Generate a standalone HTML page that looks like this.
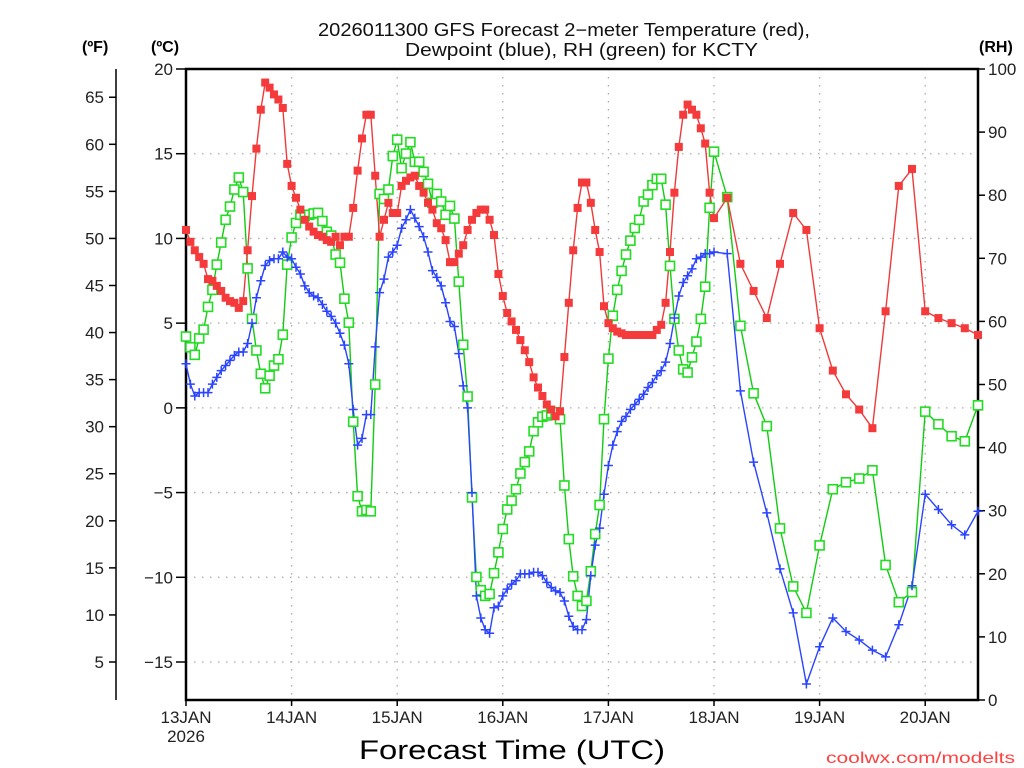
<!DOCTYPE html>
<html><head><meta charset="utf-8"><title>GFS Forecast KCTY</title>
<style>
html,body{margin:0;padding:0;background:#fff;}
svg{display:block;font-family:"Liberation Sans",sans-serif;}
</style></head>
<body>
<svg id="chart" width="1024" height="768" viewBox="0 0 1024 768" xmlns="http://www.w3.org/2000/svg">
<rect x="0" y="0" width="1024" height="768" fill="#fff"/>
<text x="318" y="36" font-size="18" fill="#111" textLength="492" lengthAdjust="spacingAndGlyphs">2026011300 GFS Forecast 2−meter Temperature (red),</text>
<text x="405" y="56" font-size="18" fill="#111" textLength="353" lengthAdjust="spacingAndGlyphs">Dewpoint (blue), RH (green) for KCTY</text>
<text x="82" y="52" font-size="16" font-weight="bold" fill="#000">(ºF)</text>
<text x="151" y="52" font-size="16" font-weight="bold" fill="#000">(ºC)</text>
<text x="979" y="52" font-size="16" font-weight="bold" fill="#000">(RH)</text>
<text x="359" y="759" font-size="27" fill="#000" textLength="306" lengthAdjust="spacingAndGlyphs">Forecast Time (UTC)</text>
<text x="826" y="763" font-size="16" fill="#ff4040" textLength="189" lengthAdjust="spacingAndGlyphs">coolwx.com/modelts</text>
<g id="grid"></g>
<g id="axes"></g>
<g id="series"></g>
</svg>
<script>
// ---- data ----
const tempHourly = [10.5,9.8,9.3,8.9,8.5,7.6,7.5,7.2,6.9,6.5,6.3,6.2,5.9,6.3,9.3,12.5,15.3,17.6,19.2,18.9,18.5,18.2,17.7,14.4,13.1,
12.4,11.7,11.1,10.7,10.4,10.2,10.1,9.9,9.8,10.1,9.6,10.1,10.1,11.8,14.0,15.9,17.3,17.3,13.7,10.1,11.1,12.1,11.5,11.5,
13.1,13.4,13.6,13.7,13.1,12.7,12.1,11.7,10.9,10.6,9.9,8.6,8.6,9.1,9.6,10.5,11.1,11.5,11.7,11.7,11.1,10.2,7.9,6.6,
5.6,5.1,4.6,4.0,3.4,2.7,1.8,1.2,0.7,0.2,-0.1,-0.5,-0.2,3.0,6.2,9.3,11.8,13.3,13.3,12.1,10.5,9.2,6.0,5.0,
4.7,4.5,4.4,4.3,4.3,4.3,4.3,4.3,4.3,4.3,4.6,4.9,6.2,9.2,12.7,15.4,17.3,17.9,17.6,17.3,16.5,15.6,12.7,11.2];
const dewHourly = [2.6,1.4,0.7,0.9,0.9,0.9,1.4,1.8,2.2,2.5,2.8,3.1,3.3,3.3,3.8,5.0,6.5,7.5,8.4,8.7,8.8,8.8,9.2,8.9,8.8,
8.3,7.9,7.2,6.8,6.6,6.5,6.1,5.7,5.4,5.0,4.4,3.7,2.6,-0.1,-2.2,-1.8,-0.4,-0.4,3.6,6.8,7.6,8.9,9.2,9.6,
10.6,11.1,11.7,11.2,10.7,10.1,9.2,8.1,7.7,7.2,6.2,5.1,4.8,3.2,1.3,0.0,-5.0,-11.1,-12.4,-13.1,-13.3,-11.8,-11.7,-11.1,
-10.7,-10.4,-10.2,-9.8,-9.8,-9.8,-9.7,-9.7,-9.9,-10.3,-10.6,-10.8,-10.9,-11.4,-12.3,-12.9,-13.1,-13.1,-12.5,-9.9,-8.1,-7.1,-5.1,-3.4,
-2.2,-1.4,-0.8,-0.5,-0.1,0.2,0.5,0.8,1.2,1.5,1.9,2.2,2.7,3.8,5.3,6.6,7.4,7.8,8.2,8.8,8.9,9.1,9.1,9.2];
const rhHourly = [57.6,55.9,54.7,57.3,58.7,62.3,65.0,69.0,72.5,76.1,78.2,80.9,82.8,80.5,68.4,60.4,55.4,51.7,49.4,51.4,53.0,54.0,57.9,69.0,73.3,
75.6,76.9,76.7,76.9,77.1,77.2,75.9,74.2,73.6,70.6,69.3,63.6,59.8,44.1,32.3,29.9,30.1,29.9,50.0,80.2,79.4,80.9,86.2,88.8,
84.3,86.6,88.4,85.3,85.3,83.7,81.8,78.8,80.2,79.0,76.9,78.3,76.3,66.3,56.3,48.1,32.1,19.5,17.4,16.5,16.8,20.1,23.4,27.1,
30.2,31.6,33.4,35.9,37.7,39.4,42.6,44.0,44.9,45.1,45.4,45.6,44.5,34.0,25.5,19.6,16.5,14.9,15.7,20.4,26.3,30.9,44.5,54.1,
60.9,65.0,68.0,70.6,72.8,74.8,76.1,79.0,80.1,81.6,82.6,82.6,78.5,68.8,60.4,55.4,52.4,51.9,54.3,56.8,60.4,65.5,78.0,86.9];
const temp3h = [12.4,8.5,6.9,5.3,8.5,11.5,10.5,4.7,2.2,0.8,-0.1,-1.2,5.7,13.1,14.1,5.7,5.3,5.0,4.7,4.3];
const dew3h = [9.1,1.0,-3.2,-6.2,-9.5,-12.1,-16.3,-14.1,-12.4,-13.2,-13.7,-14.3,-14.7,-12.8,-10.5,-5.1,-6.0,-6.9,-7.5,-6.1];
const rh3h = [79.7,59.3,48.6,43.4,27.2,18.0,13.8,24.5,33.4,34.5,35.1,36.4,21.4,15.5,17.1,45.7,43.7,41.8,41.0,46.7];
const celsiusTicks = [20,15,10,5,0,-5,-10,-15];
const fahrenheitTicks = [65,60,55,50,45,40,35,30,25,20,15,10,5];
const rhTicks = [100,90,80,70,60,50,40,30,20,10,0];
const dayLabels = ["13JAN","14JAN","15JAN","16JAN","17JAN","18JAN","19JAN","20JAN"];

// ---- axes functions ----
const L=186,R=978,T=69,B=700,HOURS=180,CMAX=20,CMIN=-15,CY20=69,CYM15=662;
const xH = h => L + (R-L)*h/HOURS;
const yC = c => CY20 + (CMAX-c)*(CYM15-CY20)/(CMAX-CMIN);
const yF = f => yC((f-32)/1.8);
const yRH = r => B - (B-T)*r/100;
const NS="http://www.w3.org/2000/svg";
function mk(tag, attrs, parent){const e=document.createElementNS(NS,tag);for(const k in attrs)e.setAttribute(k,attrs[k]);parent.appendChild(e);return e;}
const grid=document.getElementById('grid'), axes=document.getElementById('axes'), series=document.getElementById('series');

// gridlines
celsiusTicks.forEach(c=>{const g=mk('line',{x1:L,x2:R,y1:yC(c),y2:yC(c),stroke:'#aaa','stroke-width':1.3,'stroke-dasharray':'1.5 6.5'},grid);

});
dayLabels.forEach((d,i)=>{if(i===0)return;const g=mk('line',{x1:xH(i*24),x2:xH(i*24),y1:T,y2:B,stroke:'#aaa','stroke-width':1.3,'stroke-dasharray':'1.5 6.5'},grid);

});

// frame
const fr=mk('rect',{x:L,y:T,width:R-L,height:B-T,fill:'none',stroke:'#000','stroke-width':2.5},axes);


// celsius ticks
celsiusTicks.forEach(c=>{const y=yC(c);
const t=mk('line',{x1:176,x2:L,y1:y,y2:y,stroke:'#000','stroke-width':1.5},axes);


const tx=mk('text',{x:173,y:y+6,'font-size':17,fill:'#222','text-anchor':'end'},axes);
tx.textContent=(c<0?'−':'')+Math.abs(c);

});
// fahrenheit axis
const fl=mk('line',{x1:116,x2:116,y1:T,y2:B,stroke:'#000','stroke-width':1.5},axes);


fahrenheitTicks.forEach(f=>{const y=yF(f);
const t=mk('line',{x1:109,x2:116,y1:y,y2:y,stroke:'#000','stroke-width':1.5},axes);


const tx=mk('text',{x:104,y:y+6,'font-size':17,fill:'#222','text-anchor':'end'},axes);
tx.textContent=String(f);

});
// RH axis
rhTicks.forEach(r=>{const y=yRH(r);
const t=mk('line',{x1:R,x2:985,y1:y,y2:y,stroke:'#000','stroke-width':1.5},axes);


const tx=mk('text',{x:988,y:y+6,'font-size':17,fill:'#222'},axes);
tx.textContent=String(r);

});
// x axis
dayLabels.forEach((d,i)=>{const x=xH(i*24);
const t=mk('line',{x1:x,x2:x,y1:B,y2:706,stroke:'#000','stroke-width':1.5},axes);


const tx=mk('text',{x:x,y:723,'font-size':17,fill:'#222','text-anchor':'middle'},axes);
tx.textContent=d;

});
const yr=mk('text',{x:xH(0),y:742,'font-size':17,fill:'#222','text-anchor':'middle'},axes);
yr.textContent='2026';



// series
function pts(hourly, three, yf){const p=[];hourly.forEach((v,i)=>p.push([xH(i),yf(v)]));three.forEach((v,i)=>p.push([xH(123+3*i),yf(v)]));return p;}
function drawSeries(p,color,name){
const pl=mk('polyline',{points:p.map(q=>q[0].toFixed(1)+','+q[1].toFixed(1)).join(' '),fill:'none',stroke:color,'stroke-width':1.4},series);

}
const rhP=pts(rhHourly,rh3h,yRH), tP=pts(tempHourly,temp3h,yC), dP=pts(dewHourly,dew3h,yC);
drawSeries(rhP,'#11cc11','rh');
drawSeries(dP,'#2a44ff','dewpoint');
drawSeries(tP,'#f03a3a','temperature');
rhP.forEach(q=>{const m=mk('rect',{x:q[0]-4.5,y:q[1]-4.5,width:9,height:9,fill:'#fff',stroke:'#22dd22','stroke-width':1.6},series);

});
dP.forEach(q=>{const m=mk('path',{d:`M${q[0]-4.5},${q[1]}H${q[0]+4.5}M${q[0]},${q[1]-4.5}V${q[1]+4.5}`,stroke:'#2a44ff','stroke-width':1.5,fill:'none'},series);

});
tP.forEach(q=>{const m=mk('rect',{x:q[0]-4,y:q[1]-4,width:8,height:8,fill:'#f43a3a'},series);

});
</script>
</body></html>
